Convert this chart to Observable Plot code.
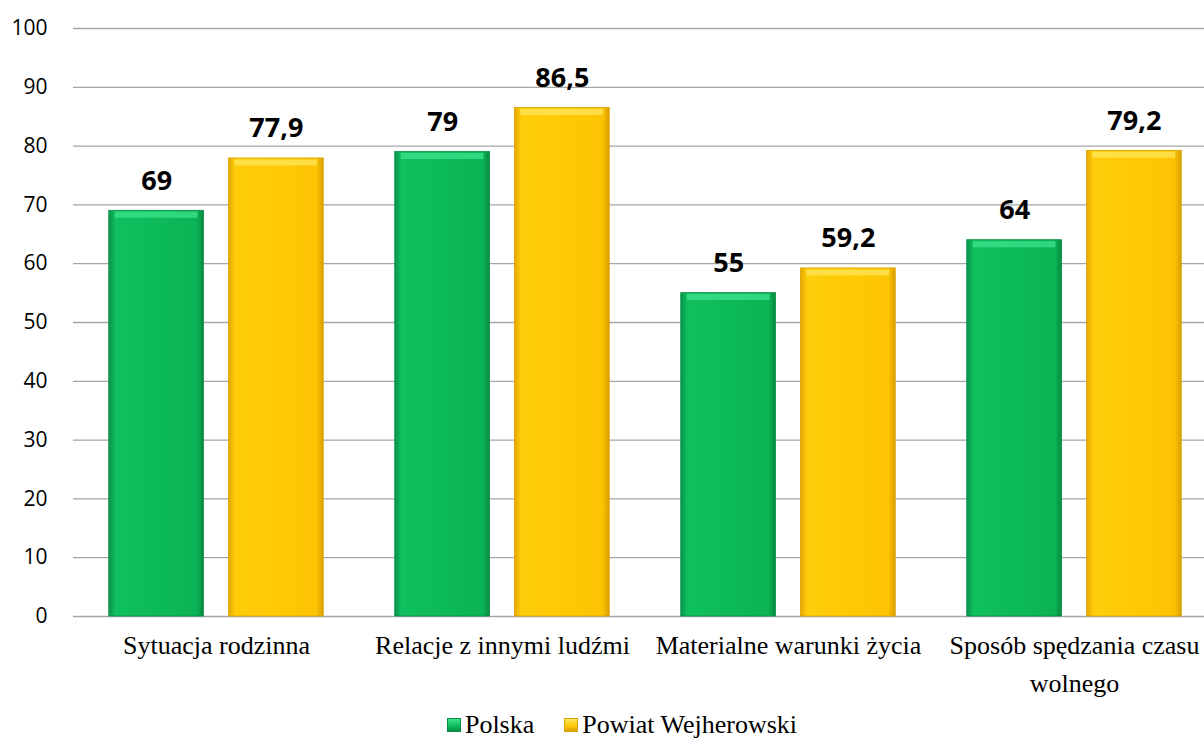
<!DOCTYPE html>
<html>
<head>
<meta charset="utf-8">
<script src="https://cdn.jsdelivr.net/npm/d3@7"></script>
<script src="https://cdn.jsdelivr.net/npm/@observablehq/plot@0.6"></script>
<style>
  html, body { margin: 0; padding: 0; background: #fff; }
  #chart { width: 1204px; overflow: hidden; height: 700px; }
  .legend { display: flex; justify-content: center; align-items: center; gap: 30px;
    font-family: "Liberation Serif", "Times New Roman", "DejaVu Serif", serif; font-size: 26px; color: #000;
    margin-top: 10px; padding-left: 40px; line-height: 30px; }
  .legend span.item { display: inline-flex; align-items: center; gap: 4px; }
  .legend span.sw { display: inline-block; width: 14px; height: 14px; box-sizing: border-box; }
</style>
</head>
<body>
<div id="chart"></div>
<script>
const categories = ["Sytuacja rodzinna", "Relacje z innymi ludźmi", "Materialne warunki życia", "Sposób spędzania czasu wolnego"];
const categoryLabels = ["Sytuacja rodzinna", "Relacje z innymi ludźmi", "Materialne warunki życia", "Sposób spędzania czasu\nwolnego"];
const seriesNames = ["Polska", "Powiat Wejherowski"];
const polska = [69, 79, 55, 64];
const powiat = [77.9, 86.5, 59.2, 79.2];
const yTicks = [0, 10, 20, 30, 40, 50, 60, 70, 80, 90, 100];

const data = [];
categories.forEach((c, i) => {
  data.push({category: c, series: seriesNames[0], value: polska[i]});
  data.push({category: c, series: seriesNames[1], value: powiat[i]});
});

const fillFor = {"Polska": "url(#gGreen)", "Powiat Wejherowski": "url(#gYellow)"};
const strokeFor = {"Polska": "#0a8f45", "Powiat Wejherowski": "#d9a300"};
const capFor = {"Polska": "#3ee38f", "Powiat Wejherowski": "#ffe55a"};
const fmt = v => String(v).replace(".", ",");
const serifFont = "'Liberation Serif', 'Times New Roman', 'DejaVu Serif', serif";

const defs = () => {
  const ns = "http://www.w3.org/2000/svg";
  const g = document.createElementNS(ns, "defs");
  g.innerHTML = `
    <linearGradient id="gGreen" x1="0" x2="1" y1="0" y2="0">
      <stop offset="0" stop-color="#07934a"/>
      <stop offset="0.07" stop-color="#10bf5e"/>
      <stop offset="0.5" stop-color="#0cba58"/>
      <stop offset="0.93" stop-color="#0bb354"/>
      <stop offset="1" stop-color="#078a40"/>
    </linearGradient>
    <linearGradient id="gYellow" x1="0" x2="1" y1="0" y2="0">
      <stop offset="0" stop-color="#e3a500"/>
      <stop offset="0.07" stop-color="#ffcd0a"/>
      <stop offset="0.5" stop-color="#ffca05"/>
      <stop offset="0.93" stop-color="#fcc302"/>
      <stop offset="1" stop-color="#d99e00"/>
    </linearGradient>
    <filter id="shadow" x="-10%" y="-10%" width="130%" height="120%">
      <feDropShadow dx="2" dy="2" stdDeviation="2" flood-color="#000" flood-opacity="0.25"/>
    </filter>`;
  return g;
};

// half of the gap between facet bands, so grid lines look continuous
const halfGap = 35.75;

const chart = Plot.plot({
  width: 1204,
  height: 700,
  marginLeft: 73,
  marginRight: -13,
  marginTop: 28,
  marginBottom: 84,
  style: {background: "#fff", overflow: "visible"},
  fx: {domain: categories, paddingInner: 0.25, paddingOuter: 0.125, round: false, label: null},
  x: {domain: seriesNames, paddingInner: 0.208, paddingOuter: 0, round: false, axis: null},
  y: {domain: [0, 100], label: null},
  marks: [
    defs,
    Plot.ruleY(yTicks, {y: d => d, stroke: "#a6a6a6", strokeWidth: 1.3, insetLeft: -halfGap, insetRight: -halfGap}),
    Plot.axisY({ticks: yTicks, tickSize: 0, tickPadding: halfGap + 26, fontSize: 21, fontFamily: "Open Sans",
      fill: "#000", label: null}),
    Plot.barY(data, {fx: "category", x: "series", y: "value",
      fill: d => fillFor[d.series], stroke: d => strokeFor[d.series], strokeWidth: 0.8,
      style: "filter:url(#shadow)"}),
    Plot.tickY(data, {fx: "category", x: "series", y: "value", stroke: d => capFor[d.series],
      strokeWidth: 6, dy: 4, insetLeft: 6, insetRight: 6, strokeOpacity: 0.75}),
    Plot.text(data, {fx: "category", x: "series", y: "value", text: d => fmt(d.value),
      lineAnchor: "bottom", dy: -21, fontSize: 27, fontWeight: "bold", fontFamily: "Open Sans", fill: "#000"}),
    Plot.axisFx({anchor: "bottom", domain: categories, tickSize: 0, tickPadding: 11, fontSize: 26, lineHeight: 1.46,
      fontFamily: serifFont, fill: "#000", label: null,
      tickFormat: d => categoryLabels[categories.indexOf(d)]})
  ]
});

document.getElementById("chart").appendChild(chart);

const legend = document.createElement("div");
legend.className = "legend";
legend.innerHTML = `
  <span class="item"><span class="sw" style="background:linear-gradient(180deg,#3ee38f,#0cba58 60%,#07934a);border:1px solid #0a8f45"></span>Polska</span>
  <span class="item"><span class="sw" style="background:linear-gradient(180deg,#ffe55a,#ffca05 60%,#d99e00);border:1px solid #d9a300"></span>Powiat Wejherowski</span>`;
document.body.appendChild(legend);
</script>
</body>
</html>
